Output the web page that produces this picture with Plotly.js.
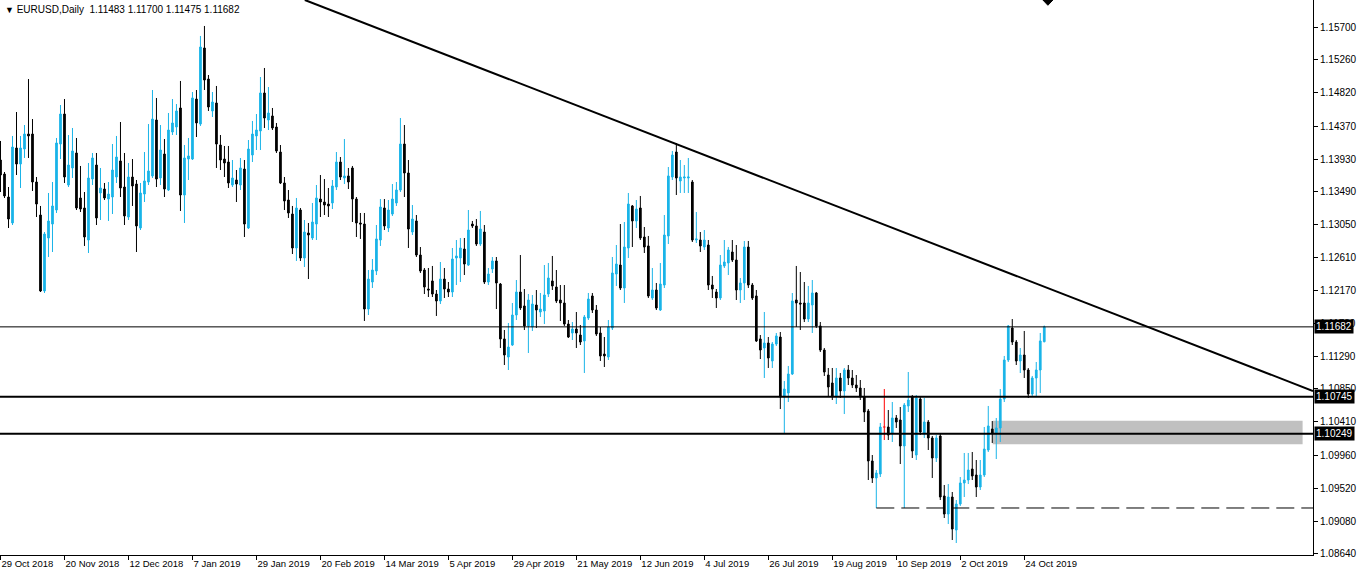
<!DOCTYPE html>
<html><head><meta charset="utf-8">
<script src="https://cdn.plot.ly/plotly-3.0.1.min.js"></script>
<style>body{margin:0;background:#fff}#chart{width:1358px;height:577px}</style>
</head><body><div id="chart"></div>
<script>
const symbol = "EURUSD,Daily";
const opens = [1.13918,1.13730,1.13422,1.13074,1.14079,1.13864,1.14065,1.14266,1.14266,1.13623,
1.13181,1.12163,1.12873,1.13060,1.13248,1.14132,1.14534,1.13583,1.13811,1.14012,
1.13409,1.13275,1.12846,1.13663,1.13851,1.13476,1.13529,1.13395,1.13422,1.13690,
1.13905,1.13556,1.13154,1.13690,1.13596,1.13007,1.13462,1.13623,1.13704,1.14454,
1.13677,1.13998,1.13516,1.14293,1.14360,1.14615,1.13449,1.13931,1.13931,1.14735,
1.14400,1.15419,1.15003,1.14575,1.14682,1.14119,1.13931,1.13891,1.13583,1.13650,
1.13583,1.13797,1.13007,1.13985,1.14240,1.14307,1.14816,1.14454,1.14508,1.14360,
1.14025,1.13610,1.13382,1.13194,1.12739,1.13248,1.12605,1.12940,1.12873,1.13060,
1.13395,1.13355,1.13328,1.13342,1.13556,1.13891,1.13677,1.13704,1.13811,1.13395,
1.13074,1.13060,1.11921,1.12283,1.12431,1.12846,1.13275,1.13007,1.13194,1.13342,
1.13516,1.14132,1.13744,1.12953,1.13101,1.12645,1.12444,1.12189,1.12297,1.12122,
1.12029,1.12323,1.12189,1.12149,1.12605,1.12605,1.12725,1.12511,1.13060,1.13034,
1.12792,1.12953,1.12283,1.12457,1.12565,1.12256,1.11520,1.11278,1.11439,1.11841,
1.12149,1.11962,1.11694,1.11680,1.11975,1.11881,1.11895,1.12122,1.12297,1.12216,
1.12042,1.12002,1.11720,1.11600,1.11653,1.11573,1.11493,1.11801,1.12096,1.11908,
1.11600,1.11318,1.11278,1.11667,1.12390,1.12511,1.12203,1.12739,1.13302,1.13101,
1.13275,1.12886,1.12766,1.12069,1.12176,1.11908,1.12243,1.12900,1.13690,1.14025,
1.13637,1.13677,1.13677,1.13623,1.12846,1.12846,1.12752,1.12779,1.12243,1.12149,
1.12069,1.12498,1.12538,1.12685,1.12578,1.12176,1.12270,1.12752,1.12243,1.12096,
1.11520,1.11399,1.11466,1.11225,1.11452,1.11546,1.10742,1.10796,1.11050,1.12042,
1.12002,1.12002,1.11787,1.11975,1.12136,1.11694,1.11372,1.11037,1.10930,1.10756,
1.10997,1.10823,1.11104,1.10997,1.10903,1.10863,1.10742,1.10555,1.09885,1.09657,
1.09710,1.10340,1.10340,1.10260,1.10461,1.10434,1.10086,1.10622,1.10742,1.09965,
1.10715,1.10246,1.10407,1.10193,1.09925,1.10220,1.09416,1.09174,1.09402,1.08960,
1.09308,1.09590,1.09630,1.09777,1.09697,1.09536,1.09697,1.10032,1.10313,1.10260,
1.10327,1.10715,1.11238,1.11667,1.11479,1.11225,1.11305,1.11104,1.10782,1.10997,
1.11104,1.11483];
const highs = [1.14173,1.13757,1.13556,1.14240,1.14561,1.14240,1.14387,1.15003,1.14467,1.13690,
1.13302,1.12953,1.13476,1.13623,1.14213,1.14655,1.14735,1.14253,1.14347,1.14213,
1.13838,1.13489,1.13878,1.14012,1.14012,1.13811,1.13610,1.13623,1.14132,1.14240,
1.14427,1.14012,1.13878,1.13931,1.13650,1.13610,1.14025,1.14400,1.14856,1.14749,
1.14387,1.14199,1.14548,1.14735,1.14668,1.14977,1.14119,1.14213,1.14829,1.14856,
1.15580,1.15714,1.15057,1.14829,1.14910,1.14253,1.14106,1.14106,1.13918,1.13784,
1.13945,1.13918,1.14186,1.14441,1.14534,1.15030,1.15151,1.14896,1.14615,1.14414,
1.14119,1.13690,1.13516,1.13302,1.13409,1.13275,1.13114,1.13074,1.13342,1.13583,
1.13717,1.13663,1.13543,1.13650,1.14025,1.13958,1.14199,1.13811,1.13838,1.13422,
1.13208,1.13208,1.12444,1.12591,1.13047,1.13395,1.13395,1.13382,1.13596,1.13623,
1.14481,1.14387,1.13918,1.13315,1.13181,1.12752,1.12471,1.12471,1.12498,1.12176,
1.12551,1.12471,1.12283,1.12739,1.12846,1.12873,1.12873,1.13248,1.13101,1.13127,
1.13235,1.13047,1.12471,1.12618,1.12618,1.12270,1.11640,1.11734,1.12002,1.12310,
1.12645,1.12189,1.12122,1.12109,1.12176,1.12136,1.12511,1.12538,1.12632,1.12444,
1.12243,1.12243,1.11774,1.11747,1.11881,1.11707,1.11841,1.12136,1.12136,1.11975,
1.11680,1.11546,1.11774,1.12618,1.12779,1.13060,1.13087,1.13476,1.13315,1.13382,
1.13436,1.13020,1.12900,1.12471,1.12270,1.12538,1.13181,1.13824,1.14039,1.14146,
1.13918,1.13851,1.13945,1.13650,1.13221,1.12953,1.12980,1.12846,1.12364,1.12189,
1.12645,1.12846,1.12752,1.12846,1.12779,1.12337,1.12833,1.12833,1.12270,1.12176,
1.11573,1.11881,1.11546,1.11479,1.11600,1.11613,1.10957,1.11158,1.12136,1.12498,
1.12417,1.12283,1.12230,1.12310,1.12149,1.11747,1.11399,1.11131,1.11131,1.11131,
1.11064,1.11131,1.11171,1.11104,1.11037,1.10970,1.10863,1.10581,1.09965,1.09764,
1.10394,1.10849,1.10568,1.10675,1.10501,1.10608,1.10662,1.11077,1.10769,1.10769,
1.10742,1.10729,1.10434,1.10220,1.10233,1.10246,1.09563,1.09576,1.09469,1.09362,
1.09670,1.09992,1.09992,1.10005,1.09898,1.09898,1.10340,1.10622,1.10420,1.10461,
1.10849,1.11292,1.11707,1.11787,1.11506,1.11399,1.11627,1.11130,1.11024,1.11211,
1.11600,1.11700];
const lows = [1.13489,1.13409,1.13007,1.13047,1.13717,1.13543,1.13945,1.13945,1.13503,1.13154,
1.12149,1.12136,1.12618,1.12685,1.13208,1.13931,1.13610,1.13556,1.13677,1.13248,
1.13221,1.12766,1.12672,1.13583,1.13047,1.13114,1.13382,1.13101,1.13194,1.13610,
1.13422,1.13047,1.13114,1.13302,1.12685,1.12980,1.13355,1.13583,1.13677,1.13556,
1.13583,1.13422,1.13503,1.14253,1.14253,1.13235,1.13074,1.13650,1.13918,1.14226,
1.14374,1.14856,1.14575,1.14494,1.13811,1.13784,1.13690,1.13543,1.13556,1.13355,
1.13516,1.12886,1.12993,1.13891,1.14052,1.14052,1.14347,1.14320,1.14320,1.14012,
1.13596,1.13248,1.13141,1.12658,1.12565,1.12565,1.12484,1.12323,1.12846,1.12846,
1.13154,1.13181,1.13154,1.13261,1.13516,1.13650,1.13596,1.13529,1.13087,1.12886,
1.12860,1.11761,1.11841,1.12203,1.12377,1.12766,1.12980,1.12953,1.13168,1.13302,
1.13489,1.13422,1.12739,1.12913,1.12618,1.12404,1.12122,1.12082,1.12082,1.11828,
1.11988,1.12069,1.12082,1.12082,1.12243,1.12283,1.12377,1.12498,1.13007,1.12766,
1.12766,1.12256,1.12243,1.12404,1.11921,1.11399,1.11171,1.11104,1.11426,1.11774,
1.11908,1.11640,1.11332,1.11627,1.11667,1.11814,1.11720,1.12082,1.12176,1.12002,
1.11761,1.11694,1.11533,1.11506,1.11399,1.11439,1.11064,1.11774,1.11868,1.11560,
1.11225,1.11144,1.11238,1.11640,1.12230,1.12176,1.12002,1.12605,1.12752,1.13007,
1.12846,1.12672,1.12069,1.12042,1.11908,1.11895,1.12203,1.12792,1.13650,1.13449,
1.13476,1.13476,1.13476,1.12819,1.12806,1.12685,1.12712,1.12176,1.12069,1.11935,
1.12042,1.12471,1.12377,1.12551,1.12042,1.12002,1.12042,1.12203,1.12042,1.11479,
1.11251,1.10997,1.11131,1.11131,1.11426,1.10581,1.10260,1.10675,1.11037,1.11680,
1.11640,1.11747,1.11747,1.11600,1.11667,1.11345,1.11024,1.10756,1.10702,1.10648,
1.10729,1.10514,1.10903,1.10863,1.10809,1.10702,1.10407,1.09630,1.09590,1.09255,
1.09670,1.10166,1.10166,1.10139,1.10327,1.09844,1.09255,1.10541,1.09925,1.09898,
1.10233,1.10193,1.10032,1.09657,1.09871,1.09362,1.09121,1.09040,1.08826,1.08786,
1.09282,1.09402,1.09576,1.09630,1.09402,1.09496,1.09670,1.10005,1.10126,1.09911,
1.10139,1.10675,1.11211,1.11439,1.11171,1.11064,1.10997,1.10729,1.10756,1.10742,
1.10796,1.11475];
const closes = [1.13717,1.13436,1.13127,1.14092,1.13864,1.14079,1.14266,1.14240,1.13623,1.13328,
1.12163,1.12926,1.13101,1.13302,1.14146,1.14534,1.13690,1.13851,1.14039,1.13275,
1.13261,1.12886,1.13677,1.13945,1.13141,1.13543,1.13409,1.13462,1.13784,1.13958,
1.13543,1.13168,1.13690,1.13570,1.13034,1.13476,1.13637,1.13771,1.14467,1.13663,
1.14052,1.13529,1.14320,1.14414,1.14575,1.13449,1.13945,1.13972,1.14749,1.14414,
1.15432,1.14990,1.14628,1.14695,1.14132,1.13918,1.13878,1.13610,1.13677,1.13596,
1.13811,1.13060,1.14065,1.14266,1.14320,1.14816,1.14481,1.14548,1.14347,1.14039,
1.13610,1.13369,1.13208,1.12739,1.13275,1.12605,1.12953,1.12913,1.13087,1.13409,
1.13355,1.13315,1.13302,1.13570,1.13891,1.13690,1.13704,1.13623,1.13395,1.13074,
1.13060,1.11921,1.12323,1.12444,1.12860,1.13288,1.13034,1.13248,1.13395,1.13516,
1.14132,1.13744,1.12993,1.13127,1.12645,1.12431,1.12216,1.12176,1.12122,1.12029,
1.12323,1.12189,1.12149,1.12591,1.12632,1.12739,1.12524,1.12980,1.13034,1.12792,
1.12993,1.12283,1.12390,1.12565,1.12270,1.11520,1.11305,1.11412,1.11841,1.12149,
1.11935,1.11694,1.12042,1.11988,1.11908,1.11921,1.12109,1.12337,1.12230,1.12029,
1.12002,1.11720,1.11546,1.11653,1.11600,1.11479,1.11814,1.12055,1.11908,1.11586,
1.11292,1.11292,1.11680,1.12404,1.12524,1.12203,1.12752,1.13328,1.13101,1.13261,
1.12873,1.12752,1.12096,1.12176,1.11935,1.12256,1.12913,1.13704,1.13985,1.13677,
1.13690,1.13690,1.13690,1.12846,1.12860,1.12766,1.12846,1.12243,1.12189,1.12069,
1.12511,1.12551,1.12712,1.12578,1.12176,1.12270,1.12752,1.12243,1.12069,1.11493,
1.11372,1.11466,1.11265,1.11452,1.11560,1.10742,1.10849,1.11050,1.12029,1.12002,
1.11988,1.11787,1.12002,1.12136,1.11694,1.11372,1.11077,1.10876,1.10756,1.10997,
1.10823,1.11104,1.10997,1.10903,1.10863,1.10742,1.10541,1.09885,1.09657,1.09724,
1.10340,1.10340,1.10233,1.10461,1.10407,1.10086,1.10635,1.10702,1.10019,1.10729,
1.10273,1.10407,1.10193,1.09925,1.10193,1.09402,1.09174,1.09402,1.08973,1.09308,
1.09590,1.09630,1.09764,1.09684,1.09536,1.09697,1.10045,1.10354,1.10260,1.10327,
1.10715,1.11238,1.11694,1.11479,1.11225,1.11305,1.11104,1.10782,1.10997,1.11104,
1.11493,1.11682];
const markedBar = 221;
const tickIdx = [0,16,32,48,64,80,96,112,128,144,160,176,192,208,224,240,256];
const tickLabels = ["29 Oct 2018","20 Nov 2018","12 Dec 2018","7 Jan 2019","29 Jan 2019","20 Feb 2019",
"14 Mar 2019","5 Apr 2019","29 Apr 2019","21 May 2019","12 Jun 2019","4 Jul 2019","26 Jul 2019",
"19 Aug 2019","10 Sep 2019","2 Oct 2019","24 Oct 2019"];
const priceTicks = [1.15700,1.15260,1.14820,1.14370,1.13930,1.13490,1.13050,1.12610,1.12170,1.11730,
1.11290,1.10850,1.10410,1.09960,1.09520,1.09080,1.08640];
const thinLevels = [1.11682];
const thickLevels = [1.10745, 1.10249];
const dashedLevel = [219, 1.09255];
const zoneX = [248.1, 325.6];
const zoneY = [1.10108, 1.10425];
const trendX = [76.1, 328.2];
const trendY = [1.16062, 1.10823];

const N = opens.length;
const idx = [], o = [], h = [], l = [], c = [];
for (let i = 0; i < N; i++) {
  if (i === markedBar) continue;
  idx.push(i); o.push(opens[i]); h.push(highs[i]); l.push(lows[i]); c.push(closes[i]);
}
const bull = '#1ab4e8';
const traces = [{
  type: 'candlestick', x: idx, open: o, high: h, low: l, close: c,
  increasing: {line: {color: bull, width: 1}, fillcolor: bull},
  decreasing: {line: {color: '#000', width: 1}, fillcolor: '#000'},
  whiskerwidth: 0, hoverinfo: 'skip'
}, {
  type: 'ohlc', x: [markedBar], open: [opens[markedBar]], high: [highs[markedBar]],
  low: [lows[markedBar]], close: [closes[markedBar]],
  increasing: {line: {color: '#ff0000', width: 1}},
  decreasing: {line: {color: '#ff0000', width: 1}},
  tickwidth: 0.3, hoverinfo: 'skip'
}];

const xEnd = 328.2;
const shapes = [];
shapes.push({type: 'rect', xref: 'x', yref: 'y', x0: zoneX[0], x1: zoneX[1], y0: zoneY[0], y1: zoneY[1],
  fillcolor: '#c0c0c0', line: {width: 0}, layer: 'below'});
thinLevels.forEach(v => shapes.push({type: 'line', xref: 'x', yref: 'y', x0: -1, x1: xEnd, y0: v, y1: v,
  line: {color: '#000', width: 1}}));
thickLevels.forEach(v => shapes.push({type: 'line', xref: 'x', yref: 'y', x0: -1, x1: xEnd, y0: v, y1: v,
  line: {color: '#000', width: 2}}));
shapes.push({type: 'line', xref: 'x', yref: 'y', x0: dashedLevel[0], x1: xEnd, y0: dashedLevel[1], y1: dashedLevel[1],
  line: {color: '#000', width: 1, dash: '18px,7px'}});
shapes.push({type: 'line', xref: 'x', yref: 'y', x0: trendX[0], x1: trendX[1], y0: trendY[0], y1: trendY[1],
  line: {color: '#000', width: 2}});
// chart-shift marker at the top
shapes.push({type: 'path', xref: 'paper', yref: 'paper',
  path: 'M 0.7943 1 L 0.8019 1 L 0.7981 0.9905 Z', fillcolor: '#000', line: {color: '#000', width: 1}});

const fmt = v => v.toFixed(5);
const annotations = [{
  xref: 'paper', yref: 'paper', x: 0, y: 1, xanchor: 'left', yanchor: 'top', xshift: 3, yshift: -2,
  showarrow: false, align: 'left',
  text: '<span style="font-size:9px">▼</span> ' + symbol + '  ' + fmt(opens[N-1]) + ' ' + fmt(highs[N-1]) + ' ' + fmt(lows[N-1]) + ' ' + fmt(closes[N-1]),
  font: {family: 'Liberation Sans, Arial', size: 10, color: '#000'}
}];
thinLevels.concat(thickLevels).forEach(v => annotations.push({
  xref: 'paper', yref: 'y', x: 1, y: v, xanchor: 'left', yanchor: 'middle', xshift: 1,
  showarrow: false, text: fmt(v), bgcolor: '#000', borderpad: 1,
  font: {family: 'Liberation Sans, Arial', size: 10, color: '#fff'}
}));

const layout = {
  width: 1358, height: 577,
  margin: {l: 0, r: 45, t: 0, b: 22, pad: 0},
  paper_bgcolor: '#fff', plot_bgcolor: '#fff',
  showlegend: false, dragmode: false,
  xaxis: {type: 'linear', range: [-0.125, xEnd], tickvals: tickIdx, ticktext: tickLabels,
    ticks: 'outside', ticklen: 4, tickcolor: '#000', tickwidth: 1, tickangle: 0, automargin: false,
    showgrid: false, zeroline: false, showline: true, linecolor: '#000', linewidth: 1,
    rangeslider: {visible: false}, ticklabelposition: 'outside right', fixedrange: true,
    tickfont: {family: 'Liberation Sans, Arial', size: 9.5, color: '#000'}},
  yaxis: {side: 'right', range: [1.08625, 1.16062], tickvals: priceTicks, ticktext: priceTicks.map(fmt),
    ticks: 'outside', ticklen: 4, tickcolor: '#000', showgrid: false, zeroline: false, automargin: false,
    showline: true, linecolor: '#000', linewidth: 1, fixedrange: true,
    tickfont: {family: 'Liberation Sans, Arial', size: 10, color: '#000'}},
  boxgap: 0.4,
  shapes: shapes, annotations: annotations
};
Plotly.newPlot('chart', traces, layout, {displayModeBar: false, staticPlot: true});
</script></body></html>
